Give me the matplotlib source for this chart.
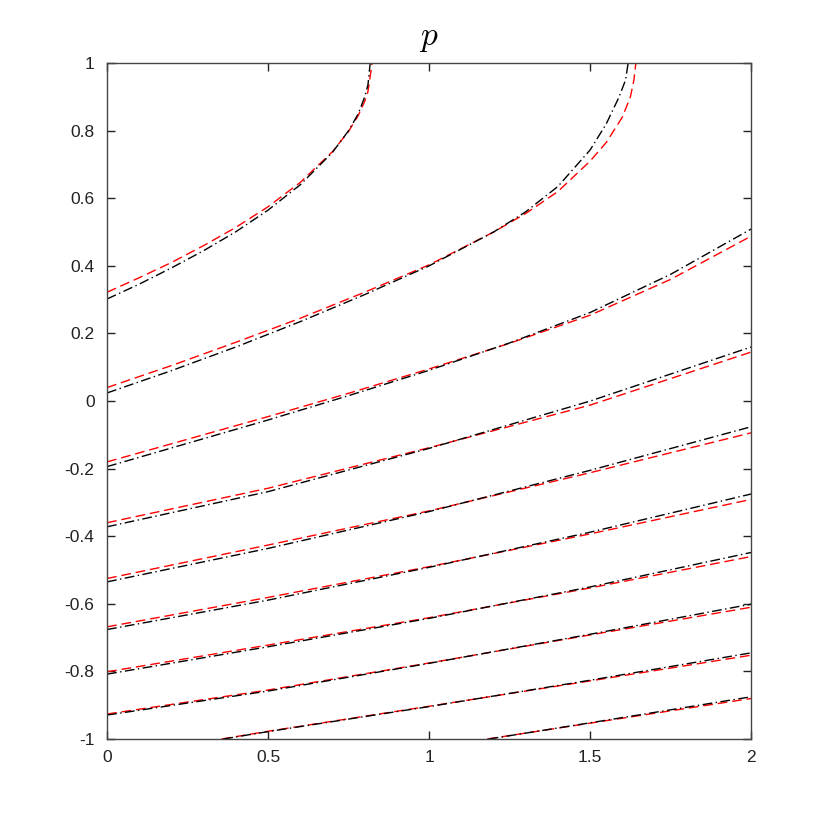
import matplotlib
matplotlib.use("Agg")
import matplotlib.pyplot as plt

plt.rcParams['axes.unicode_minus'] = False
plt.rcParams['font.family'] = ['Liberation Sans', 'DejaVu Sans']
plt.rcParams['mathtext.fontset'] = 'cm'

# contour lines: black = first solution, red = second
x_c1_black = [0, 0.1, 0.2, 0.3, 0.4, 0.5, 0.6, 0.7, 0.75, 0.78, 0.8, 0.81, 0.817]
y_c1_black = [0.302, 0.346, 0.394, 0.445, 0.501, 0.565, 0.64, 0.736, 0.80, 0.85, 0.90, 0.935, 1.0]
x_c1_red = [0, 0.1, 0.2, 0.3, 0.4, 0.5, 0.6, 0.7, 0.75, 0.78, 0.8, 0.81, 0.823]
y_c1_red = [0.322, 0.365, 0.41, 0.46, 0.514, 0.575, 0.647, 0.738, 0.798, 0.845, 0.887, 0.915, 1.0]

x_c2_black = [0, 0.2, 0.4, 0.6, 0.8, 1.0, 1.2, 1.3, 1.4, 1.5, 1.55, 1.59, 1.61, 1.618]
y_c2_black = [0.024, 0.09, 0.16, 0.235, 0.315, 0.40, 0.50, 0.56, 0.635, 0.743, 0.82, 0.90, 0.95, 1.0]
x_c2_red = [0, 0.2, 0.4, 0.6, 0.8, 1.0, 1.2, 1.3, 1.4, 1.5, 1.55, 1.6, 1.625, 1.636, 1.642]
y_c2_red = [0.04, 0.105, 0.174, 0.245, 0.322, 0.403, 0.50, 0.555, 0.62, 0.71, 0.765, 0.84, 0.90, 0.95, 1.0]

x_c3 = [0, 0.25, 0.5, 0.75, 1.0, 1.25, 1.5, 1.75, 2.0]
y_c3_black = [-0.194, -0.125, -0.056, 0.016, 0.091, 0.172, 0.262, 0.375, 0.509]
y_c3_red = [-0.18, -0.113, -0.046, 0.023, 0.095, 0.171, 0.254, 0.36, 0.488]

x_half = [0, 0.5, 1.0, 1.5, 2.0]
y_c4_black = [-0.372, -0.268, -0.14, 0.0, 0.16]
y_c4_red = [-0.36, -0.258, -0.138, -0.012, 0.145]
y_c5_black = [-0.535, -0.436, -0.327, -0.205, -0.076]
y_c5_red = [-0.525, -0.426, -0.325, -0.212, -0.094]
y_c6_black = [-0.676, -0.589, -0.492, -0.388, -0.275]
y_c6_red = [-0.668, -0.581, -0.49, -0.393, -0.291]
y_c7_black = [-0.808, -0.727, -0.643, -0.55, -0.448]
y_c7_red = [-0.801, -0.722, -0.641, -0.553, -0.46]
y_c8_black = [-0.929, -0.858, -0.776, -0.69, -0.601]
y_c8_red = [-0.926, -0.855, -0.775, -0.692, -0.61]

x_c9_black = [0.361, 0.5, 1.0, 1.5, 2.0]
y_c9_black = [-1.0, -0.978, -0.904, -0.826, -0.745]
x_c9_red = [0.355, 0.5, 1.0, 1.5, 2.0]
y_c9_red = [-1.0, -0.977, -0.903, -0.828, -0.752]

x_c10_black = [1.185, 1.5, 2.0]
y_c10_black = [-1.0, -0.952, -0.875]
x_c10_red = [1.18, 1.5, 2.0]
y_c10_red = [-1.0, -0.953, -0.88]

xticks = [0, 0.5, 1, 1.5, 2]
xtick_labels = ['0', '0.5', '1', '1.5', '2']
yticks = [-1, -0.8, -0.6, -0.4, -0.2, 0, 0.2, 0.4, 0.6, 0.8, 1]
ytick_labels = ['-1', '-0.8', '-0.6', '-0.4', '-0.2', '0', '0.2', '0.4', '0.6', '0.8', '1']

black_lines = [
    (x_c1_black, y_c1_black), (x_c2_black, y_c2_black), (x_c3, y_c3_black),
    (x_half, y_c4_black), (x_half, y_c5_black), (x_half, y_c6_black),
    (x_half, y_c7_black), (x_half, y_c8_black),
    (x_c9_black, y_c9_black), (x_c10_black, y_c10_black),
]
red_lines = [
    (x_c1_red, y_c1_red), (x_c2_red, y_c2_red), (x_c3, y_c3_red),
    (x_half, y_c4_red), (x_half, y_c5_red), (x_half, y_c6_red),
    (x_half, y_c7_red), (x_half, y_c8_red),
    (x_c9_red, y_c9_red), (x_c10_red, y_c10_red),
]

fig = plt.figure(figsize=(8.3, 8.3), dpi=100)
ax = fig.add_axes([0.129, 0.1096, 0.776, 0.8144])

for xs, ys in red_lines:
    ax.plot(xs, ys, color='#ff0000', linewidth=1.0, dashes=(7, 3.5))
for xs, ys in black_lines:
    ax.plot(xs, ys, color='black', linewidth=1.0, dashes=(7, 2.5, 1, 2.5))

ax.set_xlim(0, 2)
ax.set_ylim(-1, 1)
ax.set_xticks(xticks)
ax.set_xticklabels(xtick_labels)
ax.set_yticks(yticks)
ax.set_yticklabels(ytick_labels)
ax.tick_params(direction='in', length=6, width=1, top=True, right=True,
               labelsize=12.5, colors='#222222')
ax.tick_params(axis='y', pad=9)
ax.tick_params(axis='x', pad=8)
for sp in ax.spines.values():
    sp.set_color('#444444')
    sp.set_linewidth(1.0)

ax.set_title('$p$', fontsize=24, pad=13)

fig.savefig('out.png', dpi=100)
